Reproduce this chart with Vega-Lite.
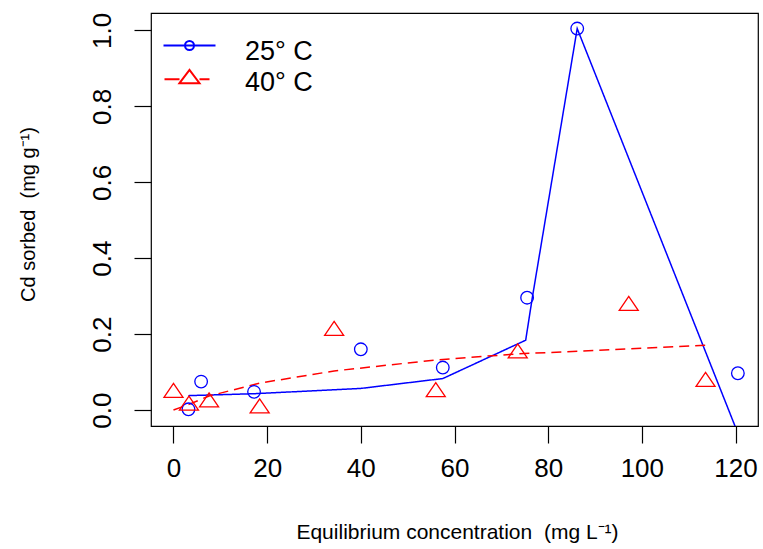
{
  "$schema": "https://vega.github.io/schema/vega-lite/v6.json",
  "width": 607,
  "height": 413,
  "autosize": {"type": "none"},
  "padding": {"left": 151, "top": 13, "right": 5, "bottom": 123},
  "background": "white",
  "config": {
    "view": {"stroke": "black", "strokeWidth": 1.2},
    "font": "Liberation Sans"
  },
  "datasets": {
    "pts": [
      {"series": "25° C", "conc": 3.2, "sorbed": 0.002},
      {"series": "25° C", "conc": 5.9, "sorbed": 0.075},
      {"series": "25° C", "conc": 17.2, "sorbed": 0.048},
      {"series": "25° C", "conc": 40.0, "sorbed": 0.160},
      {"series": "25° C", "conc": 57.5, "sorbed": 0.112},
      {"series": "25° C", "conc": 75.5, "sorbed": 0.296},
      {"series": "25° C", "conc": 86.2, "sorbed": 1.005},
      {"series": "25° C", "conc": 120.5, "sorbed": 0.097},
      {"series": "40° C", "conc": 0.0, "sorbed": 0.052},
      {"series": "40° C", "conc": 3.3, "sorbed": 0.018},
      {"series": "40° C", "conc": 7.6, "sorbed": 0.027},
      {"series": "40° C", "conc": 18.4, "sorbed": 0.011},
      {"series": "40° C", "conc": 34.3, "sorbed": 0.215},
      {"series": "40° C", "conc": 56.0, "sorbed": 0.054},
      {"series": "40° C", "conc": 73.5, "sorbed": 0.156},
      {"series": "40° C", "conc": 97.2, "sorbed": 0.281},
      {"series": "40° C", "conc": 113.6, "sorbed": 0.081}
    ],
    "fit": [
      {"series": "25° C", "conc": 3.2, "sorbed": 0.038},
      {"series": "25° C", "conc": 5.9, "sorbed": 0.039},
      {"series": "25° C", "conc": 17.2, "sorbed": 0.043},
      {"series": "25° C", "conc": 40.0, "sorbed": 0.057},
      {"series": "25° C", "conc": 57.5, "sorbed": 0.083},
      {"series": "25° C", "conc": 75.2, "sorbed": 0.184},
      {"series": "25° C", "conc": 76.6, "sorbed": 0.295},
      {"series": "25° C", "conc": 86.2, "sorbed": 1.005},
      {"series": "25° C", "conc": 120.5, "sorbed": -0.061},
      {"series": "40° C", "conc": 0.0, "sorbed": 0.0},
      {"series": "40° C", "conc": 3.3, "sorbed": 0.015},
      {"series": "40° C", "conc": 7.6, "sorbed": 0.037},
      {"series": "40° C", "conc": 18.4, "sorbed": 0.071},
      {"series": "40° C", "conc": 34.3, "sorbed": 0.103},
      {"series": "40° C", "conc": 56.0, "sorbed": 0.132},
      {"series": "40° C", "conc": 73.5, "sorbed": 0.148},
      {"series": "40° C", "conc": 97.2, "sorbed": 0.161},
      {"series": "40° C", "conc": 113.6, "sorbed": 0.171}
    ]
  },
  "encoding": {
    "x": {
      "field": "conc",
      "type": "quantitative",
      "scale": {"domain": [-4.8, 124.8], "nice": false, "zero": false},
      "axis": {
        "values": [0, 20, 40, 60, 80, 100, 120],
        "format": "d",
        "title": "Equilibrium concentration\u00a0 (mg L⁻¹)",
        "titleFontSize": 21,
        "titleFontWeight": "normal",
        "titleColor": "black",
        "titleX": 306,
        "titleY": 112,
        "titleBaseline": "alphabetic",
        "titleAnchor": null,
        "labelFontSize": 26,
        "labelColor": "black",
        "labelPadding": 12,
        "labelFlush": false,
        "labelOverlap": false,
        "tickSize": 17,
        "tickColor": "black",
        "tickWidth": 1.2,
        "domain": false,
        "grid": false
      }
    },
    "y": {
      "field": "sorbed",
      "type": "quantitative",
      "scale": {"domain": [-0.042, 1.046], "nice": false, "zero": false},
      "axis": {
        "values": [0, 0.2, 0.4, 0.6, 0.8, 1.0],
        "format": ".1f",
        "title": "Cd sorbed\u00a0 (mg g⁻¹)",
        "titleFontSize": 20,
        "titleFontWeight": "normal",
        "titleColor": "black",
        "titleAngle": 270,
        "titleX": -117,
        "titleY": 201,
        "titleAlign": "center",
        "titleBaseline": "alphabetic",
        "titleAnchor": null,
        "labelFontSize": 26,
        "labelColor": "black",
        "labelAngle": 270,
        "labelAlign": "center",
        "labelBaseline": "alphabetic",
        "labelPadding": 24,
        "labelFlush": false,
        "labelOverlap": false,
        "tickSize": 17,
        "tickColor": "black",
        "tickWidth": 1.2,
        "domain": false,
        "grid": false
      }
    }
  },
  "layer": [
    {
      "data": {"name": "fit"},
      "mark": {"type": "line", "clip": true, "strokeWidth": 1.5},
      "encoding": {
        "color": {
          "field": "series",
          "type": "nominal",
          "scale": {"domain": ["25° C", "40° C"], "range": ["#0000ff", "#ff0000"]},
          "legend": null
        },
        "strokeDash": {
          "field": "series",
          "type": "nominal",
          "scale": {"domain": ["25° C", "40° C"], "range": [[1, 0], [10, 6]]},
          "legend": null
        }
      }
    },
    {
      "data": {"name": "pts"},
      "mark": {"type": "point", "filled": false, "size": 100, "strokeWidth": 1.3, "opacity": 1},
      "encoding": {
        "color": {
          "field": "series",
          "type": "nominal",
          "scale": {"domain": ["25° C", "40° C"], "range": ["#0000ff", "#ff0000"]},
          "legend": null
        },
        "shape": {
          "field": "series",
          "type": "nominal",
          "scale": {
            "domain": ["25° C", "40° C"],
            "range": [
              "M-1.26,0A1.26,1.26,0,1,0,1.26,0A1.26,1.26,0,1,0,-1.26,0Z",
              "M0,-1.4L1.9,1.4L-1.9,1.4Z"
            ]
          },
          "legend": null
        }
      }
    },
    {
      "data": {"name": "pts"},
      "mark": {"type": "point", "filled": false, "size": 400, "opacity": 0},
      "encoding": {
        "color": {
          "field": "series",
          "type": "nominal",
          "scale": {"domain": ["25° C", "40° C"], "range": ["#0000ff", "#ff0000"]},
          "legend": {
            "orient": "none",
            "legendX": 25,
            "legendY": 25,
            "title": null,
            "padding": 0,
            "labelFontSize": 27,
            "labelColor": "black",
            "labelOffset": 42,
            "labelBaseline": "middle",
            "rowPadding": 0,
            "symbolSize": 400,
            "symbolStrokeWidth": 2,
            "symbolOpacity": 1,
            "symbolFillColor": "transparent"
          }
        },
        "shape": {
          "field": "series",
          "type": "nominal",
          "scale": {
            "domain": ["25° C", "40° C"],
            "range": [
              "M-2.6,-0.6L2.6,-0.6M-0.45,-0.6A0.45,0.45,0,1,0,0.45,-0.6A0.45,0.45,0,1,0,-0.45,-0.6",
              "M-2.5,-0.33L-1,-0.33M1,-0.33L2,-0.33M-1,0.07L0,-1.27L1,0.07Z"
            ]
          },
          "legend": {
            "orient": "none",
            "legendX": 25,
            "legendY": 25,
            "title": null,
            "padding": 0,
            "labelFontSize": 27,
            "labelColor": "black",
            "labelOffset": 42,
            "labelBaseline": "middle",
            "rowPadding": 0,
            "symbolSize": 400,
            "symbolStrokeWidth": 2,
            "symbolOpacity": 1,
            "symbolFillColor": "transparent"
          }
        }
      }
    }
  ],
  "resolve": {"scale": {"shape": "independent", "color": "independent", "strokeDash": "independent"}}
}
